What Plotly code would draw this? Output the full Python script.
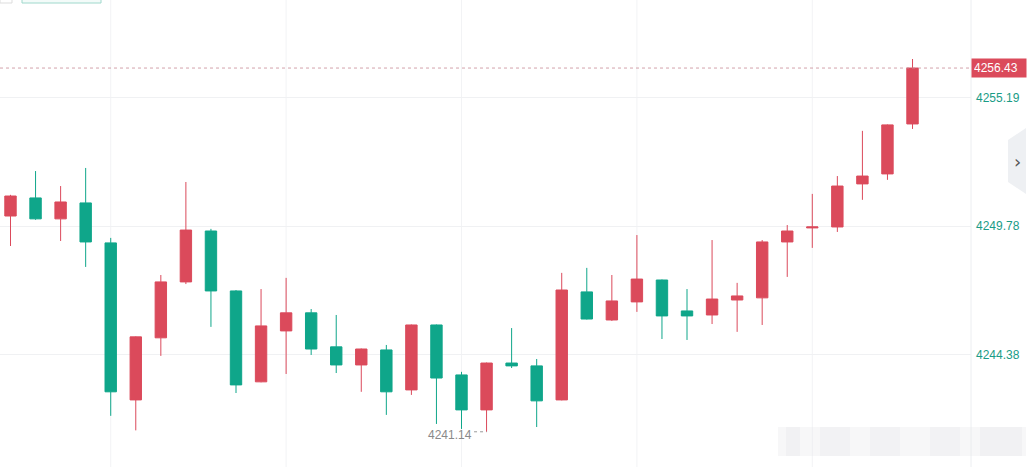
import plotly.graph_objects as go

# ---- data ----
open_ = [4250.21, 4250.97, 4250.09, 4250.76, 4249.08, 4242.48, 4245.09, 4247.44, 4249.58, 4247.06,
         4243.24, 4245.38, 4246.14, 4244.71, 4243.95, 4244.58, 4242.90, 4245.63, 4243.53, 4242.06,
         4244.03, 4243.91, 4242.48, 4247.02, 4245.84, 4246.60, 4247.52, 4246.22, 4246.05, 4246.68,
         4246.77, 4249.12, 4249.71, 4249.75, 4251.56, 4251.98, 4254.08]
high = [4251.10, 4252.10, 4251.47, 4252.23, 4249.29, 4245.15, 4247.73, 4251.64, 4249.67, 4247.10,
        4247.14, 4247.61, 4246.30, 4246.05, 4244.64, 4244.79, 4245.65, 4245.65, 4243.66, 4244.05,
        4245.50, 4244.20, 4247.82, 4248.03, 4247.73, 4249.41, 4247.54, 4247.14, 4249.20, 4247.40,
        4249.20, 4249.83, 4251.14, 4251.89, 4253.79, 4254.06, 4256.81]
low = [4248.95, 4250.05, 4249.16, 4248.07, 4241.81, 4241.20, 4244.33, 4247.35, 4245.55, 4242.77,
       4243.22, 4243.57, 4244.37, 4243.61, 4242.82, 4241.85, 4242.69, 4241.47, 4241.26, 4241.14,
       4243.82, 4241.34, 4242.46, 4245.86, 4245.80, 4246.18, 4245.04, 4245.00, 4245.67, 4245.34,
       4245.63, 4247.65, 4248.87, 4249.54, 4250.89, 4251.73, 4253.87]
close = [4251.05, 4250.09, 4250.80, 4249.12, 4242.82, 4245.13, 4247.44, 4249.62, 4247.06, 4243.11,
         4245.59, 4246.14, 4244.62, 4243.95, 4244.62, 4242.82, 4245.63, 4243.40, 4242.06, 4244.03,
         4243.91, 4242.44, 4247.10, 4245.88, 4246.64, 4247.56, 4246.01, 4246.01, 4246.72, 4246.85,
         4249.12, 4249.58, 4249.75, 4251.47, 4251.89, 4254.04, 4256.43]
x_idx = list(range(len(open_)))

y_ticks = [4244.38, 4249.78, 4255.19]
last_price = 4256.43
low_label = 4241.14
low_index = 19
v_grid = [4, 11, 18, 25, 32]

RED = "#db4a5b"
GREEN = "#0fa68a"
TEAL_TXT = "#1a9c86"

fig = go.Figure()
fig.add_trace(go.Candlestick(
    x=x_idx, open=open_, high=high, low=low, close=close,
    increasing=dict(line=dict(color=RED, width=1), fillcolor=RED),
    decreasing=dict(line=dict(color=GREEN, width=1), fillcolor=GREEN),
    whiskerwidth=0, showlegend=False, hoverinfo="skip",
))

# vertical grid lines
for v in v_grid:
    fig.add_shape(type="line", xref="x", yref="paper", x0=v, x1=v, y0=0, y1=1,
                  line=dict(color="#f2f3f5", width=1), layer="below")

# last-price dotted line
fig.add_shape(type="line", xref="paper", yref="y", x0=0, x1=1, y0=last_price, y1=last_price,
              line=dict(color="rgba(200,140,150,0.8)", width=1, dash="dot"))

# axis separator line
fig.add_shape(type="line", xref="paper", yref="paper", x0=1, x1=1, y0=0, y1=1,
              line=dict(color="#eceef1", width=1))

# last price label
fig.add_annotation(xref="paper", yref="y", x=1, y=last_price, text=f"{last_price:.2f}",
                   showarrow=False, xanchor="left", yanchor="middle", bgcolor=RED,
                   font=dict(color="white", size=12, family="Arial, Liberation Sans"),
                   borderpad=2, width=50, align="left")

# low label
fig.add_annotation(xref="x", yref="y", x=low_index - 0.52, y=low_label, text=f"{low_label:.2f}",
                   showarrow=False, xanchor="right", yanchor="middle", yshift=-3,
                   font=dict(color="#8a8a8a", size=12, family="Arial, Liberation Sans"))
fig.add_shape(type="line", xref="x", yref="y", x0=low_index - 0.5, x1=low_index,
              y0=low_label, y1=low_label, line=dict(color="#9a9a9a", width=1, dash="dot"))

# top-left toolbar remnants
fig.add_shape(type="rect", xref="paper", yref="paper", x0=22/971, x1=101/971, y0=1 - 3/467, y1=1.02,
              line=dict(color="#9fd8cc", width=1), fillcolor="#f3fbf9")
fig.add_shape(type="rect", xref="paper", yref="paper", x0=0, x1=12/971, y0=1 - 3/467, y1=1.02,
              line=dict(color="#dddddd", width=1), fillcolor="white")

# right expand button
fig.add_shape(type="path", xref="paper", yref="paper",
              path=f"M {1008/971} {1-140/467} L {1026/971} {1-128/467} L {1026/971} {1-194/467} L {1008/971} {1-182/467} Z",
              fillcolor="#eef0f3", line=dict(width=0))
fig.add_annotation(xref="paper", yref="paper", x=1017/971, y=1 - 162/467, text="›", showarrow=False,
                   font=dict(color="#555555", size=18, family="DejaVu Sans"), xanchor="center", yanchor="middle")

# faint blurred watermark
for x0, x1, a in [(778, 1026, 0.35), (786, 800, 0.4), (820, 850, 0.3), (870, 900, 0.3),
                  (930, 960, 0.3), (980, 1022, 0.4)]:
    fig.add_shape(type="rect", xref="paper", yref="paper", x0=x0/971, x1=x1/971,
                  y0=1 - 456/467, y1=1 - 427/467, fillcolor=f"rgba(232,232,235,{a})", line=dict(width=0))

fig.update_layout(
    width=1029, height=467,
    margin=dict(l=0, r=58, t=0, b=0),
    paper_bgcolor="white", plot_bgcolor="white",
    boxgap=0.35,
    xaxis=dict(range=[-0.419, 38.334], showgrid=False, showticklabels=False, zeroline=False,
               rangeslider=dict(visible=False), fixedrange=True),
    yaxis=dict(range=[4239.66, 4259.29], side="right", tickvals=y_ticks,
               ticktext=[f"{v:.2f}" for v in y_ticks], showgrid=True, gridcolor="#f0f1f3",
               zeroline=False, ticks="", ticklabelstandoff=4,
               tickfont=dict(color=TEAL_TXT, size=12, family="Arial, Liberation Sans")),
)

fig.write_html("out.html")
